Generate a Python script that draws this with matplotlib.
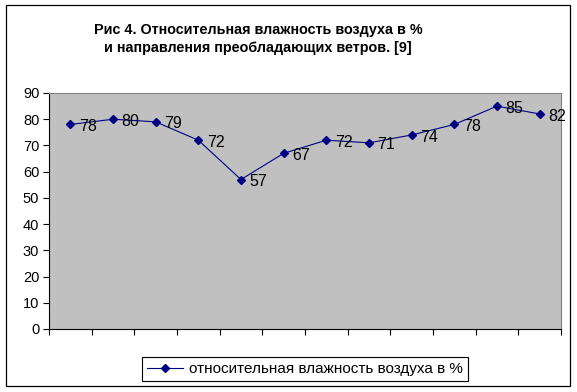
import matplotlib.pyplot as plt
from matplotlib.patches import Rectangle

plt.rcParams['font.family'] = ['Liberation Sans', 'DejaVu Sans']

# data
months = list(range(12))
humidity = [78, 80, 79, 72, 57, 67, 72, 71, 74, 78, 85, 82]
series_name = 'относительная влажность воздуха в %'
title = 'Рис 4. Относительная влажность воздуха в %\nи направления преобладающих ветров. [9]'

fig = plt.figure(figsize=(5.77, 3.92), dpi=100)
fig.patch.set_facecolor('white')

# outer chart frame
fig.patches.append(Rectangle((6 / 577, 1 - 386 / 392), 564 / 577, 381 / 392,
                             transform=fig.transFigure, fill=False,
                             edgecolor='black', linewidth=0.9))

ax = fig.add_axes([49 / 577, 1 - 329 / 392, 512 / 577, 236 / 392])
ax.set_facecolor('#C0C0C0')

line, = ax.plot(months, humidity, color='#000080', linewidth=0.8,
                marker='D', markersize=3.8, label=series_name)
for x, v in zip(months, humidity):
    ax.annotate(f'{v}', (x, v), xytext=(6, -1.5), textcoords='offset points',
                ha='left', va='center', fontsize=11.5, color='black')

ax.set_xlim(-0.5, 11.5)
ax.set_ylim(0, 90)
ax.set_yticks(range(0, 91, 10))
ax.set_xticks([i - 0.5 for i in range(13)])
ax.set_xticklabels([])
ax.tick_params(axis='y', direction='out', length=4, width=0.8, labelsize=10.5, pad=3)
ax.tick_params(axis='x', direction='out', length=4, width=0.8)

ax.spines['top'].set_color('#808080')
ax.spines['right'].set_color('#808080')
ax.spines['left'].set_color('black')
ax.spines['bottom'].set_color('black')
for s in ax.spines.values():
    s.set_linewidth(0.8)

fig.text(258 / 577, 1 - 39 / 392, title, ha='center', va='center',
         fontsize=10.4, fontweight='bold', linespacing=1.45)

leg = fig.legend(handles=[line], loc='center', bbox_to_anchor=(305 / 577, 1 - 369 / 392),
                 fontsize=11, fancybox=False, edgecolor='black', framealpha=1,
                 handlelength=2.4, borderpad=0.3, handletextpad=0.4)
leg.get_frame().set_linewidth(0.8)

plt.savefig('out.png', dpi=100)
